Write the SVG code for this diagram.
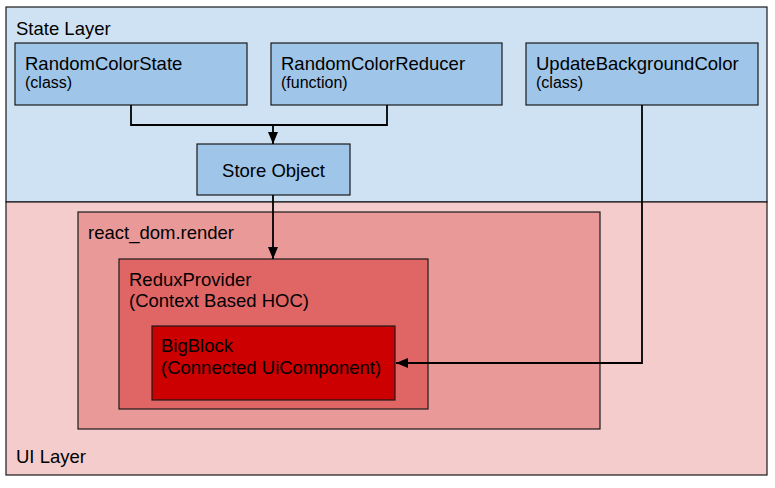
<svg xmlns="http://www.w3.org/2000/svg" width="775" height="488" viewBox="0 0 775 488">
<style>
text{font-family:"Liberation Sans",Arial,sans-serif;fill:#000}
.t{font-size:18.5px}
.s{font-size:16px}
.box{stroke:#1a1a1a;stroke-width:1.2}
.node{fill:#9fc5e8}
.conn{fill:none;stroke:#000;stroke-width:1.8}
</style>
<defs>
<marker id="ah" markerWidth="12" markerHeight="10" refX="12" refY="5" orient="auto" markerUnits="userSpaceOnUse">
<path d="M0,0 L12,5 L0,10 Z" fill="#000"/>
</marker>
</defs>
<rect width="775" height="488" fill="#fff"/>
<g id="state-layer">
<rect class="box" x="6" y="7" width="761" height="195" fill="#cfe2f3"/>
<text class="t" x="16" y="35">State Layer</text>
</g>
<g id="ui-layer">
<rect class="box" x="6" y="202" width="761" height="273" fill="#f4cccc"/>
<text class="t" x="16" y="463">UI Layer</text>
</g>
<g id="random-color-state">
<rect class="box node" x="15" y="43" width="232" height="62"/>
<text class="t" x="25" y="70">RandomColorState</text>
<text class="s" x="25" y="88">(class)</text>
</g>
<g id="random-color-reducer">
<rect class="box node" x="271" y="43" width="231" height="62"/>
<text class="t" x="281" y="70">RandomColorReducer</text>
<text class="s" x="281" y="88">(function)</text>
</g>
<g id="update-background-color">
<rect class="box node" x="526" y="43" width="232" height="62"/>
<text class="t" x="536" y="70">UpdateBackgroundColor</text>
<text class="s" x="536" y="88">(class)</text>
</g>
<g id="store-object">
<rect class="box node" x="197" y="144" width="153" height="51"/>
<text class="t" x="273.5" y="177" text-anchor="middle">Store Object</text>
</g>
<g id="react-dom-render">
<rect class="box" x="78" y="212" width="522" height="217" fill="#ea9999"/>
<text class="t" x="88" y="239">react_dom.render</text>
</g>
<g id="redux-provider">
<rect class="box" x="119" y="259" width="309" height="150" fill="#e06666"/>
<text class="t" x="129" y="286">ReduxProvider</text>
<text class="t" x="129" y="307">(Context Based HOC)</text>
</g>
<g id="big-block">
<rect class="box" x="152" y="326" width="243" height="74" fill="#cc0000"/>
<text class="t" x="161" y="352">BigBlock</text>
<text class="t" x="161" y="374">(Connected UiComponent)</text>
</g>
<g id="connectors">
<path class="conn" d="M131,105 V125 H387 V105"/>
<path class="conn" d="M273,125 V144" marker-end="url(#ah)"/>
<path class="conn" d="M273,195 V259" marker-end="url(#ah)"/>
<path class="conn" d="M642,105 V363 H396" marker-end="url(#ah)"/>
</g>
</svg>
